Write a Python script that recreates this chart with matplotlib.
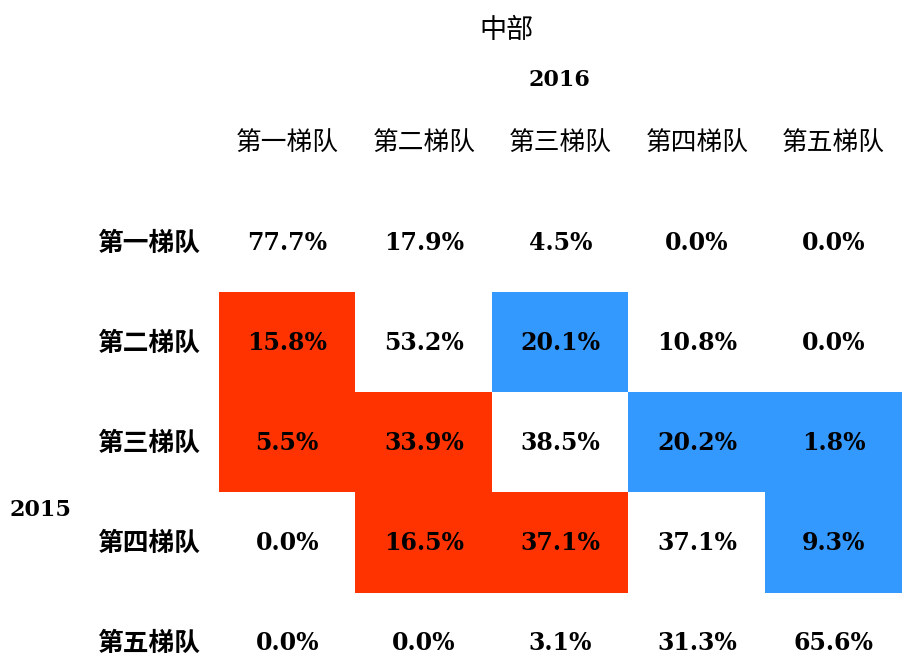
import numpy as np
import matplotlib.pyplot as plt
from matplotlib.colors import ListedColormap

title = '中部'
col_year = '2016'
row_year = '2015'
tiers = ['第一梯队', '第二梯队', '第三梯队', '第四梯队', '第五梯队']

# transition shares (%), rows = 2015 tier, cols = 2016 tier
shares = [
    [77.7, 17.9, 4.5, 0.0, 0.0],
    [15.8, 53.2, 20.1, 10.8, 0.0],
    [5.5, 33.9, 38.5, 20.2, 1.8],
    [0.0, 16.5, 37.1, 37.1, 9.3],
    [0.0, 0.0, 3.1, 31.3, 65.6],
]
# highlight: 0 none, 1 down (red), 2 up (blue)
highlight = [
    [0, 0, 0, 0, 0],
    [1, 0, 2, 0, 0],
    [1, 1, 0, 2, 2],
    [0, 1, 1, 0, 2],
    [0, 0, 0, 0, 0],
]

cjk = ['Noto Sans CJK SC', 'DejaVu Sans']
num_font = 'DejaVu Serif'

fig = plt.figure(figsize=(9.2, 6.55), dpi=100)
# grid spans x 219..902 px, y 193..693 px (runs past the bottom edge)
ax = fig.add_axes([219 / 920, (655 - 693) / 655, 683 / 920, 500 / 655])

cmap = ListedColormap(['#FFFFFF', '#FF3300', '#3399FF'])
ax.imshow(np.array(highlight), cmap=cmap, vmin=0, vmax=2, aspect='auto',
          interpolation='nearest')
ax.set_xlim(-0.5, len(tiers) - 0.5)
ax.set_ylim(len(tiers) - 0.5, -0.5)
ax.axis('off')

for i in range(len(tiers)):
    for j in range(len(tiers)):
        ax.text(j, i, f'{shares[i][j]:.1f}%', ha='center', va='center',
                fontsize=17, fontweight='bold', family=num_font)

for j, t in enumerate(tiers):
    ax.text(j, -1, t, ha='center', va='center', fontsize=18.5, family=cjk,
            clip_on=False)
for i, t in enumerate(tiers):
    ax.text(-0.64, i, t, ha='right', va='center', fontsize=18.5,
            fontweight='bold', family=cjk, clip_on=False)

fig.text(507 / 920, 1 - 30 / 655, title, ha='center', va='center',
         fontsize=19.5, family=cjk)
fig.text(559 / 920, 1 - 80 / 655, col_year, ha='center', va='center',
         fontsize=16, fontweight='bold', family=num_font)
fig.text(40 / 920, 1 - 510 / 655, row_year, ha='center', va='center',
         fontsize=16, fontweight='bold', family=num_font)

fig.savefig('out.png', dpi=100)
